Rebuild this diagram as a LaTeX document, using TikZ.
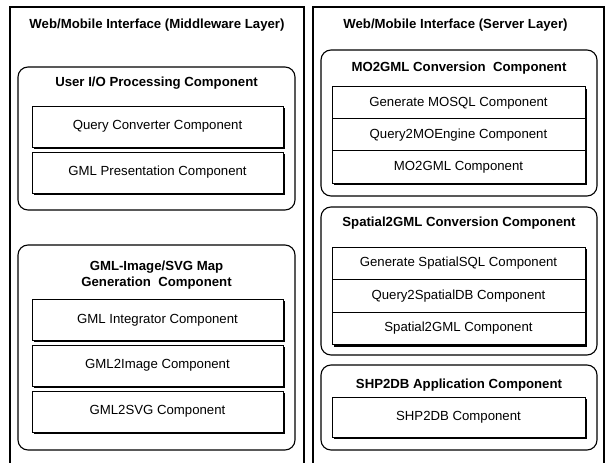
\documentclass[tikz,border=0pt]{standalone}
\usepackage{fontspec}
\setmainfont{Liberation Sans}
\usetikzlibrary{shadows}
\tikzset{
  layer/.style={draw, line width=1.2pt, minimum height=458pt},
  group/.style={draw, line width=1.1pt, rounded corners=10pt},
  comp/.style={draw, fill=white, line width=1pt,
    general shadow={fill=black, shadow xshift=1.6pt, shadow yshift=-1.8pt},
    font=\fontsize{13.2}{15}\selectfont},
  heading/.style={font=\bfseries\fontsize{13.2}{16}\selectfont, align=center}
}
\begin{document}
\begin{tikzpicture}[x=1pt, y=-1pt]
      \useasboundingbox (0,0) rectangle (608,463);
      % the two layers
      \node[layer, minimum width=294pt] (mid) at (157,236) {};
      \node[layer, minimum width=291pt] (srv) at (458.5,236) {};
      \node[heading] (midtitle) at (157,25) {Web/Mobile Interface (Middleware Layer)};
      \node[heading] (srvtitle) at (455.5,25) {Web/Mobile Interface (Server Layer)};
      % middleware layer
      \begin{scope}[every node/.append style={minimum width=251pt, minimum height=41pt}]
        \node[group, minimum width=277pt, minimum height=143pt] (userio) at (156.5,138.5) {};
        \node[heading] (useriotitle) at (156.5,83) {User I/O Processing Component};
        \node[comp] (query) at (157.5,126.5) {Query Converter Component};
        \node[comp] (present) at (157.5,172.5) {GML Presentation Component};
        \node[group, minimum width=277pt, minimum height=205pt] (mapgen) at (156.5,347.5) {};
        \node[heading] (mapgentitle) at (156.5,275) {GML-Image/SVG Map\\Generation \ Component};
        \node[comp] (integ) at (157.5,320) {GML Integrator Component};
        \node[comp] (toimg) at (157.5,365.5) {GML2Image Component};
        \node[comp] (tosvg) at (157.5,411.5) {GML2SVG Component};
      \end{scope}
      % server layer
      \begin{scope}[every node/.append style={minimum width=253pt, minimum height=32.5pt}]
        \node[group, minimum width=276pt, minimum height=146pt] (mogml) at (459,123) {};
        \node[heading] (mogmltitle) at (459,68) {MO2GML Conversion \ Component};
        \node[comp] (mosql) at (458.5,103) {Generate MOSQL Component};
        \node[comp] (moeng) at (458.5,135) {Query2MOEngine Component};
        \node[comp] (mo2gml) at (458.5,167) {MO2GML Component};
        \node[group, minimum width=276pt, minimum height=148pt] (spgml) at (459,281) {};
        \node[heading] (spgmltitle) at (459,223) {Spatial2GML Conversion Component};
        \node[comp] (spsql) at (458.5,263.5) {Generate SpatialSQL Component};
        \node[comp] (spdb) at (458.5,296) {Query2SpatialDB Component};
        \node[comp] (sp2gml) at (458.5,328.5) {Spatial2GML Component};
        \node[group, minimum width=276pt, minimum height=85pt] (shpapp) at (459,407.5) {};
        \node[heading] (shpapptitle) at (459,385) {SHP2DB Application Component};
        \node[comp, minimum height=40pt] (shp) at (458.5,417) {SHP2DB Component};
      \end{scope}
    \end{tikzpicture}
\end{document}
